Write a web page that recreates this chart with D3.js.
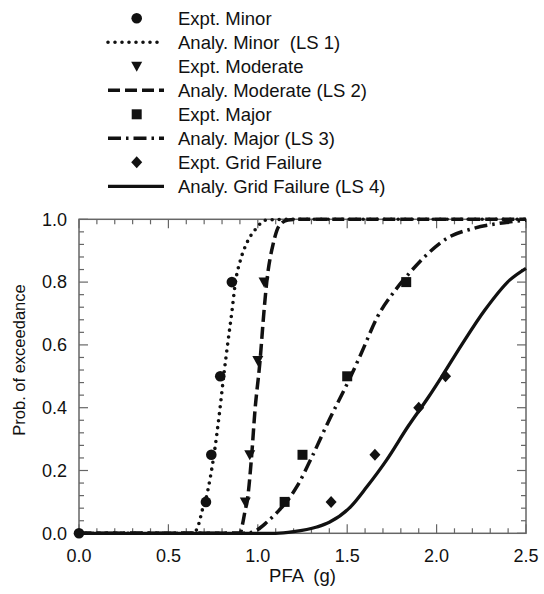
<!DOCTYPE html>
<html><head><meta charset="utf-8">
<script src="https://cdn.jsdelivr.net/npm/d3@7"></script>
<style>body{margin:0;background:#fff}svg{display:block}</style>
</head><body><svg id="c" width="544" height="594"></svg>
<script>
// ---- data ----
const xTicks = [0, 0.5, 1.0, 1.5, 2.0, 2.5];
const yTicks = [0, 0.2, 0.4, 0.6, 0.8, 1.0];
const xTickLabels = ["0.0", "0.5", "1.0", "1.5", "2.0", "2.5"];
const yTickLabels = ["0.0", "0.2", "0.4", "0.6", "0.8", "1.0"];

const exptMinor    = [[0,0],[0.71,0.10],[0.74,0.25],[0.79,0.50],[0.855,0.80]];
const exptModerate = [[0.93,0.10],[0.955,0.25],[1.0,0.55],[1.035,0.80]];
const exptMajor    = [[1.15,0.10],[1.25,0.25],[1.50,0.50],[1.83,0.80]];
const exptGrid     = [[1.41,0.10],[1.655,0.25],[1.90,0.40],[2.05,0.50]];

const analyMinor = [[0,0],[0.64,0],[0.67,0.03],[0.69,0.075],[0.71,0.11],[0.735,0.18],[0.755,0.25],
  [0.787,0.39],[0.809,0.50],[0.832,0.605],[0.856,0.71],[0.875,0.80],[0.903,0.87],[0.938,0.924],
  [0.984,0.966],[1.05,0.998],[1.2,1.0],[2.5,1.0]];
const analyModerate = [[0,0],[0.90,0],[0.915,0.03],[0.93,0.075],[0.94,0.10],[0.966,0.25],[0.984,0.39],
  [1.012,0.546],[1.035,0.71],[1.05,0.80],[1.087,0.924],[1.12,0.98],[1.17,0.998],[1.25,1.0],[2.5,1.0]];
const analyMajor = [[0,0],[0.93,0],[1.00,0.012],[1.05,0.035],[1.12,0.074],[1.16,0.10],[1.22,0.15],
  [1.30,0.24],[1.39,0.35],[1.52,0.50],[1.58,0.575],[1.67,0.69],[1.77,0.775],[1.85,0.83],[1.95,0.89],
  [2.06,0.94],[2.2,0.97],[2.35,0.987],[2.5,0.997]];
const analyGrid = [[0,0],[1.10,0],[1.20,0.005],[1.33,0.02],[1.40,0.035],[1.52,0.085],[1.61,0.148],
  [1.72,0.233],[1.84,0.34],[1.95,0.43],[2.03,0.50],[2.14,0.60],[2.27,0.711],[2.41,0.807],[2.50,0.844]];

const legendLabels = ["Expt. Minor","Analy. Minor  (LS 1)","Expt. Moderate","Analy. Moderate (LS 2)",
  "Expt. Major","Analy. Major (LS 3)","Expt. Grid Failure","Analy. Grid Failure (LS 4)"];

// ---- drawing ----
const svg = d3.select("#c");
const L = 79, R = 526, T = 219.3, B = 533.3;
const x = d3.scaleLinear().domain([0, 2.5]).range([L, R]);
const y = d3.scaleLinear().domain([0, 1]).range([B, T]);
const axisColor = "#666";
const font = "'Liberation Sans', Arial, sans-serif";

const xMinor = d3.range(0, 26).map(i => i / 10);
const yMinor = d3.range(0, 26).map(i => i * 0.04);

const g = svg.append("g");
g.append("rect").attr("x", L).attr("y", T).attr("width", R - L).attr("height", B - T)
  .attr("fill", "none").attr("stroke", axisColor).attr("stroke-width", 1.5);

function isMajor(v, step) { return Math.abs(v / step - Math.round(v / step)) < 1e-6; }

xMinor.forEach(v => {
  const len = isMajor(v, 0.5) ? 9 : 5;
  g.append("line").attr("x1", x(v)).attr("x2", x(v)).attr("y1", B).attr("y2", B - len)
    .attr("stroke", axisColor).attr("stroke-width", 1.2);
  g.append("line").attr("x1", x(v)).attr("x2", x(v)).attr("y1", T).attr("y2", T + len)
    .attr("stroke", axisColor).attr("stroke-width", 1.2);
});
yMinor.forEach(v => {
  const len = isMajor(v, 0.2) ? 9 : 5;
  g.append("line").attr("y1", y(v)).attr("y2", y(v)).attr("x1", L).attr("x2", L + len)
    .attr("stroke", axisColor).attr("stroke-width", 1.2);
  g.append("line").attr("y1", y(v)).attr("y2", y(v)).attr("x1", R).attr("x2", R - len)
    .attr("stroke", axisColor).attr("stroke-width", 1.2);
});

g.selectAll(".xl").data(xTicks).enter().append("text")
  .attr("x", d => x(d)).attr("y", 561.5).attr("text-anchor", "middle")
  .attr("font-family", font).attr("font-size", 18).attr("fill", "#111")
  .text((d, i) => xTickLabels[i]);
g.selectAll(".yl").data(yTicks).enter().append("text")
  .attr("x", 67).attr("y", d => y(d) + 6.3).attr("text-anchor", "end")
  .attr("font-family", font).attr("font-size", 18).attr("fill", "#111")
  .text((d, i) => yTickLabels[i]);

svg.append("text").attr("x", (L + R) / 2).attr("y", 582).attr("text-anchor", "middle")
  .attr("font-family", font).attr("font-size", 18.5).attr("fill", "#111")
  .attr("xml:space", "preserve").style("white-space", "pre").text("PFA  (g)");
svg.append("text").attr("transform", `translate(25,360) rotate(-90)`).attr("text-anchor", "middle")
  .attr("font-family", font).attr("font-size", 16.5).attr("fill", "#111")
  .text("Prob. of exceedance");

const styles = {
  minor:    {dash: "0 7", cap: "round", w: 3.6},
  moderate: {dash: "12 5", cap: "butt", w: 3.5},
  major:    {dash: "13 5 2.5 5", cap: "butt", w: 3.5},
  grid:     {dash: null, cap: "butt", w: 3.3}
};
const line = d3.line().x(d => x(d[0])).y(d => y(d[1])).curve(d3.curveMonotoneX);
function drawCurve(data, s) {
  const p = svg.append("path").attr("d", line(data)).attr("fill", "none")
    .attr("stroke", "#111").attr("stroke-width", s.w).attr("stroke-linecap", s.cap);
  if (s.dash) p.attr("stroke-dasharray", s.dash);
}
drawCurve(analyGrid, styles.grid);
drawCurve(analyMajor, styles.major);
drawCurve(analyModerate, styles.moderate);
drawCurve(analyMinor, styles.minor);

const triDown = "M-5.5,-4.5L5.5,-4.5L0,5.5Z";
const square = "M-5,-5H5V5H-5Z";
const diamond = "M0,-6L5.5,0L0,6L-5.5,0Z";
function drawMarkers(data, kind) {
  data.forEach(d => {
    if (kind === "circle") {
      svg.append("circle").attr("cx", x(d[0])).attr("cy", y(d[1])).attr("r", 5.3).attr("fill", "#111");
    } else {
      svg.append("path").attr("d", kind).attr("transform", `translate(${x(d[0])},${y(d[1])})`).attr("fill", "#111");
    }
  });
}
drawMarkers(exptMinor, "circle");
drawMarkers(exptModerate, triDown);
drawMarkers(exptMajor, square);
drawMarkers(exptGrid, diamond);

const rowY = i => 18.3 + i * 24.0;
const lg = svg.append("g");
legendLabels.forEach((lab, i) => {
  const cy = rowY(i);
  lg.append("text").attr("x", 178).attr("y", cy + 6.5).attr("font-family", font)
    .attr("font-size", 18.5).attr("fill", "#111").attr("xml:space", "preserve")
    .style("white-space", "pre").text(lab);
});
lg.append("circle").attr("cx", 136.7).attr("cy", rowY(0)).attr("r", 5.3).attr("fill", "#111");
lg.append("path").attr("d", triDown).attr("transform", `translate(136.7,${rowY(2)})`).attr("fill", "#111");
lg.append("path").attr("d", square).attr("transform", `translate(136.7,${rowY(4)})`).attr("fill", "#111");
lg.append("path").attr("d", diamond).attr("transform", `translate(136.7,${rowY(6)})`).attr("fill", "#111");
[["minor",1],["moderate",3],["major",5],["grid",7]].forEach(([k, i]) => {
  const s = styles[k];
  const p = lg.append("line").attr("x1", 108).attr("x2", 164).attr("y1", rowY(i)).attr("y2", rowY(i))
    .attr("stroke", "#111").attr("stroke-width", s.w).attr("stroke-linecap", s.cap);
  if (s.dash) p.attr("stroke-dasharray", s.dash);
});
</script>
</body></html>
